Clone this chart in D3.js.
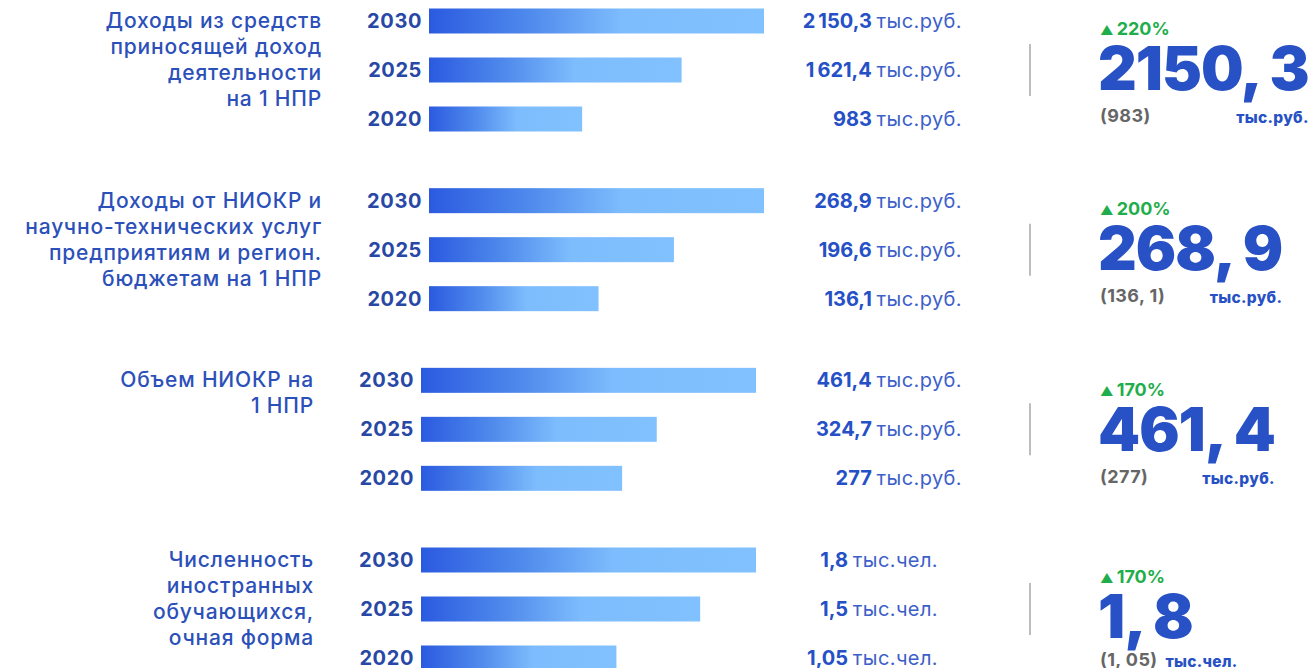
<!DOCTYPE html>
<html>
<head>
<meta charset="utf-8">
<script src="https://cdn.jsdelivr.net/npm/d3@7"></script>
<style>
  body { margin: 0; background: #fff; }
  svg { display: block; font-family: Inter, Lato, "Noto Sans", sans-serif; }
</style>
</head>
<body>
<script>
// data
var categories = [
    ["Доходы из средств", "приносящей доход", "деятельности", "на 1 НПР"],
    ["Доходы от НИОКР и", "научно-технических услуг", "предприятиям и регион.", "бюджетам на 1 НПР"],
    ["Объем НИОКР на", "1 НПР"],
    ["Численность", "иностранных", "обучающихся,", "очная форма"]
];
var years = ["2030", "2025", "2020"];
var incomeValues = [2150.3, 1621.4, 983];
var rndIncomeValues = [268.9, 196.6, 136.1];
var rndVolumeValues = [461.4, 324.7, 277];
var foreignValues = [1.8, 1.5, 1.05];
var units = ["тыс.руб.", "тыс.руб.", "тыс.руб.", "тыс.чел."];
var growth = ["220%", "200%", "170%", "170%"];

var series = [incomeValues, rndIncomeValues, rndVolumeValues, foreignValues];

// layout
var width = 1315, height = 668,
    barLen = 335,
    barH = 25,
    panelShift = [0, 0, -8, -8],
    rightShift = [0, 0, 2, 9],
    valueRight = [962, 962, 962, 938],
    blue = "#2751c4";

function fmt(v, group) {
    var parts = String(v).split(".");
    var intPart = parts[0];
    if (group && intPart.length > 3) {
        intPart = intPart.slice(0, intPart.length - 3) + "\u2009" + intPart.slice(-3);
    }
    return parts.length > 1 ? intPart + "," + parts[1] : intPart;
}

var svg = d3.select(document.body).append("svg")
    .attr("width", width)
    .attr("height", height);

var grad = svg.append("defs").append("linearGradient")
    .attr("id", "barGrad");
grad.append("stop").attr("offset", "0%").attr("stop-color", "#2b5ae0");
grad.append("stop").attr("offset", "30%").attr("stop-color", "#4f8aec");
grad.append("stop").attr("offset", "58%").attr("stop-color", "#7ebdfd");
grad.append("stop").attr("offset", "100%").attr("stop-color", "#82c1ff");

var panelY = d3.scalePoint().domain(d3.range(series.length)).range([21, 560]);
var yearY = d3.scalePoint().domain(years).range([0, 98]);

series.forEach(function (vals, p) {
    var g = svg.append("g")
        .attr("transform", "translate(" + panelShift[p] + "," + panelY(p) + ")");
    var x = d3.scaleLinear().domain([0, d3.max(vals)]).range([0, barLen]);
    var x0 = 429;

    // category label
    g.append("text")
        .attr("text-anchor", "end")
        .attr("fill", "#2c50b9")
        .style("font-size", "21px")
        .style("font-weight", 500)
        .style("letter-spacing", "0.8px")
        .selectAll("tspan")
        .data(categories[p])
        .enter().append("tspan")
        .attr("x", 322)
        .attr("y", function (d, i) { return 7 + i * 26; })
        .text(function (d) { return d; });

    var rows = g.selectAll(".row")
        .data(vals)
        .enter().append("g")
        .attr("class", "row")
        .attr("transform", function (d, i) { return "translate(0," + yearY(years[i]) + ")"; });

    rows.append("text")
        .attr("x", 422)
        .attr("y", 7)
        .attr("text-anchor", "end")
        .attr("fill", "#2848a6")
        .style("font-size", "20px")
        .style("font-weight", 700)
        .style("letter-spacing", "0.6px")
        .text(function (d, i) { return years[i]; });

    rows.append("rect")
        .attr("x", x0)
        .attr("y", -barH / 2)
        .attr("width", function (d) { return x(d); })
        .attr("height", barH)
        .attr("fill", "url(#barGrad)");

    var vt = rows.append("text")
        .attr("x", valueRight[p] - panelShift[p])
        .attr("y", 7)
        .attr("text-anchor", "end")
        .style("font-size", "20px");
    vt.append("tspan")
        .attr("fill", "#2550c6")
        .style("font-weight", 700)
        .text(function (d) { return fmt(d, true) + " "; });
    vt.append("tspan")
        .attr("fill", "#3d5fc9")
        .style("font-weight", 400)
        .style("letter-spacing", "0.4px")
        .text(units[p]);

    // right summary block
    var top = panelY(p) + rightShift[p];
    var r = svg.append("g")
        .attr("transform", "translate(0," + top + ")");

    r.append("line")
        .attr("x1", 1030).attr("x2", 1030)
        .attr("y1", yearY("2025") - 26 - rightShift[p]).attr("y2", yearY("2025") + 26 - rightShift[p])
        .attr("stroke", "#bdbdbd")
        .attr("stroke-width", 2);

    var gt = r.append("text")
        .attr("x", 1100)
        .attr("y", 14)
        .attr("fill", "#1fae4b")
        .style("font-size", "18px")
        .style("font-weight", 700);
    gt.append("tspan").style("font-size", "13px").text("\u25B2 ");
    gt.append("tspan").text(growth[p]);

    var big = r.append("text")
        .attr("x", 1098)
        .attr("y", 69)
        .attr("fill", blue)
        .style("font-size", "60px")
        .style("font-weight", 900)
        .style("letter-spacing", "-1px")
        .text(fmt(d3.max(vals)).replace(",", ", "));

    var baseY = Math.min(101, height - top - 2);
    var base = r.append("text")
        .attr("x", 1100)
        .attr("y", baseY)
        .attr("fill", "#666")
        .style("font-size", "18px")
        .style("font-weight", 700)
        .style("letter-spacing", "0.4px")
        .text("(" + fmt(d3.min(vals)).replace(",", ", ") + ")");

    var bigEnd = 1098 + big.node().getComputedTextLength();
    var baseEnd = 1100 + base.node().getComputedTextLength();
    var ut = r.append("text")
        .attr("y", baseY + 1)
        .attr("fill", blue)
        .style("font-size", "15.5px")
        .style("font-weight", 800)
        .style("letter-spacing", "0.3px")
        .text(units[p]);
    var uw = ut.node().getComputedTextLength();
    ut.attr("x", Math.max(bigEnd - uw, baseEnd + 8));
});
</script>
</body>
</html>
